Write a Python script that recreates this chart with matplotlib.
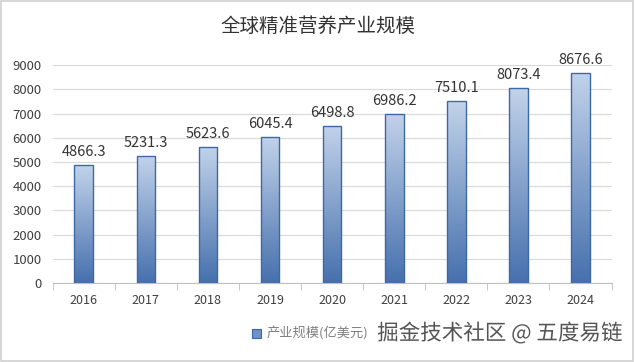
import matplotlib.pyplot as plt
import numpy as np
from matplotlib.patches import Rectangle
from matplotlib.colors import LinearSegmentedColormap
import matplotlib.patheffects as pe

plt.rcParams['font.family'] = ['Noto Sans CJK SC', 'DejaVu Sans']

years = ['2016', '2017', '2018', '2019', '2020', '2021', '2022', '2023', '2024']
values = [4866.3, 5231.3, 5623.6, 6045.4, 6498.8, 6986.2, 7510.1, 8073.4, 8676.6]

fig = plt.figure(figsize=(6.35, 3.62), dpi=100)
ax = fig.add_axes([0.083, 0.218, 0.880, 0.602])

x = np.arange(len(years))
bars = ax.bar(x, values, width=0.3, color='none', edgecolor='#3d68a6', linewidth=1.0, zorder=3)

# vertical gradient inside each bar, light at top, dark at bottom
grad = np.linspace(0, 1, 256).reshape(-1, 1)
cmap = LinearSegmentedColormap.from_list('g', ['#4670ad', '#c2d3ea'])
for b in bars:
    x0, w, h = b.get_x(), b.get_width(), b.get_height()
    im = ax.imshow(grad, extent=[x0, x0 + w, 0, h], origin='lower', aspect='auto',
                   cmap=cmap, zorder=2)
    im.set_clip_path(b)

for xi, v in zip(x, values):
    ax.text(xi, v + 250, f'{v:.1f}', ha='center', va='bottom', fontsize=10.5, color='#333333')

ax.set_xlim(-0.5, len(years) - 0.5)
ax.set_ylim(0, 9000)
ax.set_yticks(range(0, 9001, 1000))
ax.set_xticks(x)
ax.set_xticklabels(years)
ax.set_xticks(np.arange(-0.5, len(years), 1), minor=True)
ax.tick_params(axis='x', which='major', length=0, labelsize=9, colors='#404040', pad=8)
ax.tick_params(axis='x', which='minor', length=5, color='#bfbfbf')
ax.tick_params(axis='y', length=0, labelsize=9.5, colors='#404040', pad=8)
ax.grid(axis='y', color='#d9d9d9', linewidth=0.8, zorder=0)
for s in ['top', 'right', 'left']:
    ax.spines[s].set_visible(False)
ax.spines['bottom'].set_color('#bfbfbf')

fig.text(0.5, 0.928, '全球精准营养产业规模', ha='center', va='center', fontsize=14, color='#333333')

# legend
fig.patches.append(Rectangle((0.397, 0.066), 0.014, 0.025, transform=fig.transFigure,
                             facecolor='#6f93c8', edgecolor='#3d68a6', linewidth=0.8))
fig.text(0.420, 0.078, '产业规模(亿美元)', ha='left', va='center', fontsize=9.5, color='#7f7f7f')

# watermark
fig.text(0.594, 0.078, '掘金技术社区 @ 五度易链', ha='left', va='center', fontsize=15.5,
         color='#555555', path_effects=[pe.withStroke(linewidth=2.5, foreground='white')])

fig.patches.append(Rectangle((0.002, 0.004), 0.995, 0.992, transform=fig.transFigure,
                             fill=False, edgecolor='#d0d0d0', linewidth=1.2))

fig.savefig('out.png', dpi=100)
